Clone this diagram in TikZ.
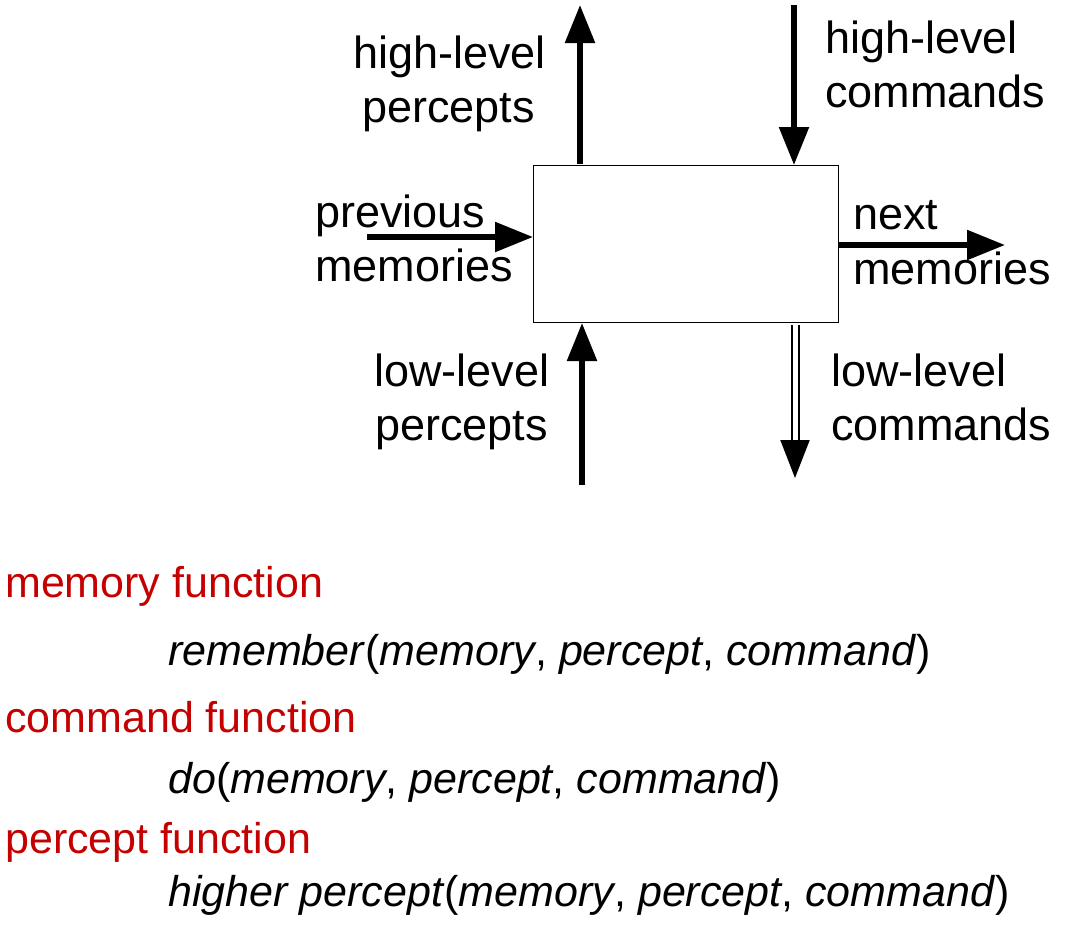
\documentclass[tikz,border=0pt]{standalone}
\usepackage{fontspec}
\setmainfont{Liberation Sans}
\usetikzlibrary{arrows.meta}
\definecolor{fnred}{RGB}{196,0,0}
\begin{document}
\begin{tikzpicture}[x=1pt,y=-1pt,
  lbl/.style={anchor=base west,inner sep=0pt,font=\fontsize{45}{52}\selectfont},
  flbl/.style={anchor=base west,inner sep=0pt,font=\fontsize{43}{50}\selectfont},
  fnlbl/.style={flbl,text=fnred},
  arr/.style={line width=5.5pt,-{Triangle[length=38pt,width=29pt]}},
  darr/.style={double=white,double distance=5pt,line width=2pt,-{Triangle[length=38pt,width=29pt]}},
  boxs/.style={draw,line width=1pt}]
\useasboundingbox (0,0) rectangle (1076,927);
\node[boxs,minimum width=305pt,minimum height=157pt,anchor=north west,inner sep=0pt] (box) at (533,165) {};
% coordinates
\coordinate (hpT) at (580,5);
\coordinate (hcS) at (794,5);
\coordinate (pmS) at (367,237);
\coordinate (nmT) at (1005,245);
\coordinate (lpS) at (582,485);
\coordinate (lcT) at (795,478);
\draw[arr] (box.north west -| hpT) ++(0,-1) -- (hpT);
\draw[arr] (hcS) -- (box.north west -| hcS);
\draw[arr] (pmS) -- (pmS -| box.west);
\draw[arr] (nmT -| box.east) -- (nmT);
\draw[arr] (lpS) -- (lpS |- box.south);
\draw[darr] (lcT |- box.south) ++(0,2) -- (lcT);
% labels
\node[lbl] (t1) at (353,68) {high-level};
\node[lbl] (t2) at (362,122) {percepts};
\node[lbl] (t3) at (825,53) {high-level};
\node[lbl] (t4) at (825,107) {commands};
\node[lbl] (t5) at (315,227) {previous};
\node[lbl] (t6) at (315,281) {memories};
\node[lbl] (t7) at (853,229) {next};
\node[lbl] (t8) at (853,284) {memories};
\node[lbl] (t9) at (374,386) {low-level};
\node[lbl] (t10) at (375,440) {percepts};
\node[lbl] (t11) at (831,386) {low-level};
\node[lbl] (t12) at (831,440) {commands};
% functions
\node[fnlbl] (f1) at (5,597) {memory function};
\node[flbl] (g1) at (168,665) {\textit{remember}(\textit{memory}, \textit{percept}, \textit{command})};
\node[fnlbl] (f2) at (5,732) {command function};
\node[flbl] (g2) at (168,793) {\textit{do}(\textit{memory}, \textit{percept}, \textit{command})};
\node[fnlbl] (f3) at (5,853) {percept function};
\node[flbl] (g3) at (168,906) {\textit{higher percept}(\textit{memory}, \textit{percept}, \textit{command})};
\end{tikzpicture}
\end{document}
